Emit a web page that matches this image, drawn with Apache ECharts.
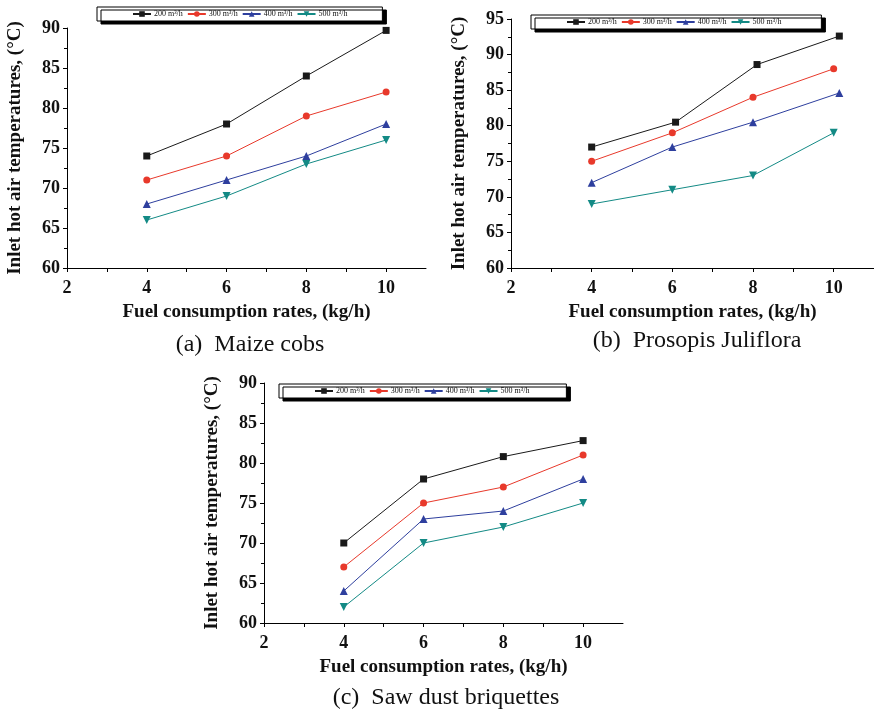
<!DOCTYPE html>
<html>
<head>
<meta charset="utf-8">
<script src="https://cdn.jsdelivr.net/npm/echarts@6/dist/echarts.min.js"></script>
<style>
  html, body { margin: 0; padding: 0; background: #fff; }
  #chart { width: 874px; height: 715px; }
</style>
</head>
<body>
<div id="chart"></div>
<script>
// fuel consumption rates (kg/h)
const fuelRates = [4, 6, 8, 10];
const flowNames = ['200 m\u00B3/h', '300 m\u00B3/h', '400 m\u00B3/h', '500 m\u00B3/h'];

// (a) maize cobs
const maize200 = [74, 78, 84, 89.7];
const maize300 = [71, 74, 79, 82];
const maize400 = [68, 71, 74, 78];
const maize500 = [66, 69, 73, 76];

// (b) prosopis juliflora - points drawn a bit off the grid values in the original
const prosopisX200 = [4, 6.08, 8.1, 10.14];
const prosopisX300 = [4, 6, 8, 10];
const prosopisX400 = [4, 6, 8, 10.14];
const prosopisX500 = [4, 6, 8, 10];
const prosopis200 = [77, 80.5, 88.6, 92.6];
const prosopis300 = [75, 79, 84, 88];
const prosopis400 = [72, 77, 80.5, 84.6];
const prosopis500 = [69, 71, 73, 79];

// (c) saw dust briquettes
const sawdust200 = [70, 78, 80.8, 82.8];
const sawdust300 = [67, 75, 77, 81];
const sawdust400 = [64, 73, 74, 78];
const sawdust500 = [62, 70, 72, 75];

const captions = ['(a)  Maize cobs', '(b)  Prosopis Juliflora', '(c)  Saw dust briquettes'];

const serif = '"Liberation Serif", "DejaVu Serif", serif';
const colors = ['#1a1a1a', '#e8392b', '#2e3f9e', '#138a85'];
const symbols = [
  { symbol: 'rect', symbolSize: 7, symbolRotate: 0 },
  { symbol: 'circle', symbolSize: 7, symbolRotate: 0 },
  { symbol: 'triangle', symbolSize: 8, symbolRotate: 0 },
  { symbol: 'triangle', symbolSize: 8, symbolRotate: 180 }
];

const zip = (xs, ys) => xs.map((x, i) => [x, ys[i]]);

const panelSeries = [
  [maize200, maize300, maize400, maize500].map(ys => zip(fuelRates, ys)),
  [
    zip(prosopisX200, prosopis200),
    zip(prosopisX300, prosopis300),
    zip(prosopisX400, prosopis400),
    zip(prosopisX500, prosopis500)
  ],
  [sawdust200, sawdust300, sawdust400, sawdust500].map(ys => zip(fuelRates, ys))
];

const grids = [
  { left: 67, top: 28, width: 359, height: 240 },
  { left: 511, top: 19, width: 363, height: 249 },
  { left: 264, top: 383, width: 359, height: 240 }
];
const yRanges = [[60, 90], [60, 95], [60, 90]];
const legendPos = [
  { left: 97, top: 7, padRight: 35 },
  { left: 531, top: 15, padRight: 40 },
  { left: 279, top: 384, padRight: 37 }
];
const captionPos = [[250, 345], [697, 341], [446, 698]];

const axisLineStyle = { show: true, lineStyle: { color: '#000', width: 1 } };

const xAxes = grids.map((g, i) => ({
  type: 'value',
  gridIndex: i,
  min: 2,
  max: 11,
  interval: 1,
  axisLine: axisLineStyle,
  axisTick: { show: true, inside: false, length: 4, lineStyle: { color: '#000' } },
  splitLine: { show: false },
  axisLabel: {
    color: '#111',
    fontFamily: serif,
    fontWeight: 'bold',
    fontSize: 18,
    margin: 11,
    showMaxLabel: false,
    formatter: v => (v % 2 === 0 ? String(v) : '')
  },
  name: 'Fuel consumption rates, (kg/h)',
  nameLocation: 'middle',
  nameGap: 35,
  nameTextStyle: { color: '#111', fontFamily: serif, fontWeight: 'bold', fontSize: 19 }
}));

const yAxes = grids.map((g, i) => ({
  type: 'value',
  gridIndex: i,
  min: yRanges[i][0],
  max: yRanges[i][1],
  interval: 5,
  axisLine: axisLineStyle,
  axisTick: { show: true, inside: false, length: 4, lineStyle: { color: '#000' } },
  minorTick: { show: true, splitNumber: 2, length: 3, lineStyle: { color: '#000' } },
  splitLine: { show: false },
  axisLabel: {
    color: '#111',
    fontFamily: serif,
    fontWeight: 'bold',
    fontSize: 18,
    margin: 7
  },
  name: 'Inlet hot air temperatures, (\u00B0C)',
  nameLocation: 'middle',
  nameGap: 42,
  nameTextStyle: { color: '#111', fontFamily: serif, fontWeight: 'bold', fontSize: 19 }
}));

const series = [];
panelSeries.forEach((list, p) => {
  list.forEach((data, k) => {
    series.push({
      name: flowNames[k],
      type: 'line',
      xAxisIndex: p,
      yAxisIndex: p,
      data: data,
      symbol: symbols[k].symbol,
      symbolSize: symbols[k].symbolSize,
      symbolRotate: symbols[k].symbolRotate,
      showAllSymbol: true,
      lineStyle: { color: colors[k], width: 1 },
      itemStyle: { color: colors[k] },
      emphasis: { disabled: true },
      z: 10 - k
    });
  });
});

const legends = legendPos.map(pos => ({
  left: pos.left,
  top: pos.top,
  orient: 'horizontal',
  data: flowNames,
  itemWidth: 18,
  itemHeight: 7,
  itemGap: 4,
  padding: [3, pos.padRight, 3, 35],
  backgroundColor: '#fff',
  borderColor: '#000',
  borderWidth: 1,
  borderRadius: 0,
  shadowColor: '#000',
  shadowBlur: 0,
  shadowOffsetX: 4,
  shadowOffsetY: 3,
  selectedMode: false,
  textStyle: { color: '#111', fontFamily: serif, fontSize: 8, padding: [0, 0, 0, -2] }
}));

const graphic = captions.map((text, i) => ({
  type: 'text',
  x: captionPos[i][0],
  y: captionPos[i][1],
  style: {
    text: text,
    fill: '#111',
    font: '24px ' + serif,
    align: 'center',
    verticalAlign: 'middle'
  }
}));

const chart = echarts.init(document.getElementById('chart'), null, { renderer: 'canvas' });
chart.setOption({
  backgroundColor: '#fff',
  animation: false,
  grid: grids,
  xAxis: xAxes,
  yAxis: yAxes,
  legend: legends,
  series: series,
  graphic: graphic
});
</script>
</body>
</html>
